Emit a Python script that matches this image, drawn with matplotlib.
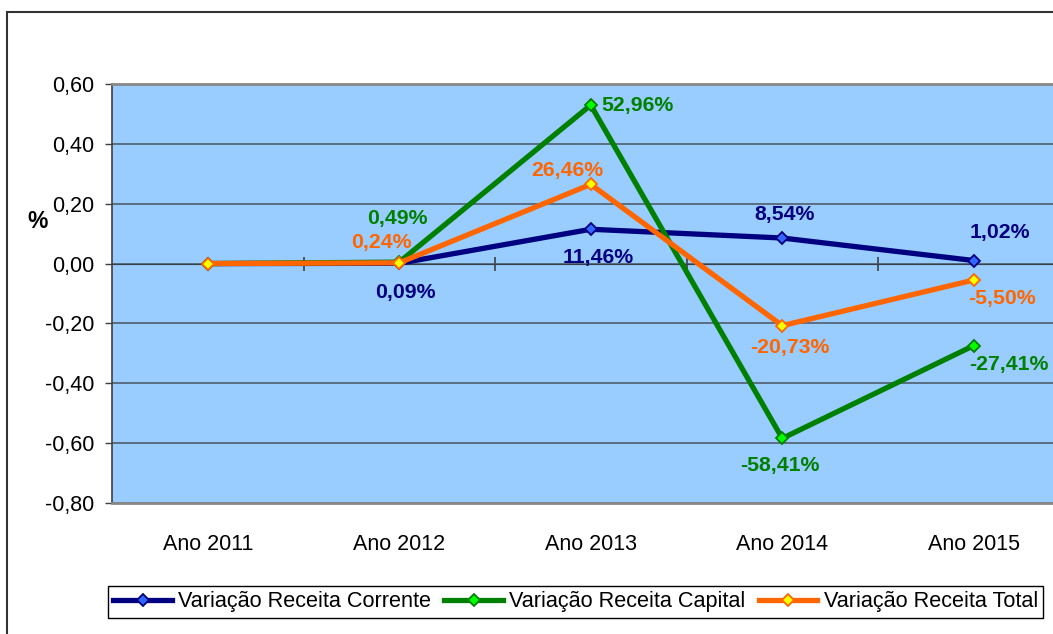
import matplotlib
matplotlib.use("Agg")
import matplotlib.pyplot as plt
from matplotlib.patches import Rectangle
from matplotlib.ticker import FuncFormatter, FixedLocator

plt.rcParams['font.family'] = ['Liberation Sans', 'DejaVu Sans']

# --- dados ---
anos = ["Ano 2011", "Ano 2012", "Ano 2013", "Ano 2014", "Ano 2015"]
corrente = [0.0, 0.0009, 0.1146, 0.0854, 0.0102]
capital = [0.0, 0.0049, 0.5296, -0.5841, -0.2741]
total = [0.0, 0.0024, 0.2646, -0.2073, -0.0550]
series_nomes = ["Variação Receita Corrente", "Variação Receita Capital", "Variação Receita Total"]

# deslocamento dos rotulos (pixels)
off_corrente = [None, (6, -29), (7, -28), (2, 24), (26, 28)]
off_capital = [None, (-2, 44), (47, 0), (-2, -27), (35, -19)]
off_total = [None, (-18, 20), (-23, 14), (8, -22), (28, -18)]

W, H = 1053, 634
fig = plt.figure(figsize=(W / 100, H / 100), dpi=100)
fig.patch.set_facecolor("white")

# borda externa do grafico
fig.patches.append(Rectangle((7 / W, -0.1), 1.2, 1 - 12 / H + 0.1, transform=fig.transFigure,
                             fill=False, edgecolor="#333333", lw=1.5))

ax = fig.add_axes([112 / W, 1 - 503 / H, 957.5 / W, 419 / H])
ax.set_facecolor("#99CCFF")

x = list(range(len(anos)))
estilos = [
    (corrente, "#000080", "#3366FF", off_corrente),
    (capital, "#008000", "#00FF00", off_capital),
    (total, "#FF6600", "#FFFF00", off_total),
]
for (vals, cor, cor_m, offs), nome in zip(estilos, series_nomes):
    ax.plot(x, vals, color=cor, lw=3.8, marker="D", markersize=6.3,
            markerfacecolor=cor_m, markeredgecolor=cor, markeredgewidth=1.3,
            label=nome, zorder=3)
    for xi, v, o in zip(x, vals, offs):
        if o is None:
            continue
        ax.annotate(f"{v * 100:.2f}%".replace(".", ","), (xi, v), xytext=o,
                    textcoords="offset pixels", ha="center", va="center",
                    fontsize=15.3, fontweight="bold", color=cor, zorder=4)

ax.set_xlim(-0.5, len(anos) - 0.5)
ax.set_ylim(-0.8, 0.6)
ax.set_yticks([-0.8, -0.6, -0.4, -0.2, 0.0, 0.2, 0.4, 0.6])
ax.yaxis.set_major_formatter(FuncFormatter(lambda v, p: f"{v:.2f}".replace(".", ",")))
ax.grid(axis="y", color="#4a5560", lw=1.1, zorder=1)
ax.set_axisbelow(True)
ax.tick_params(axis="y", direction="out", length=5, width=1, color="#404040",
               labelsize=15.5, pad=8)

ax.set_xticks(x)
ax.set_xticklabels(anos)
ax.tick_params(axis="x", length=0, labelsize=15.5, pad=22)

for s in ["top", "bottom"]:
    ax.spines[s].set_color("#888888")
    ax.spines[s].set_linewidth(2)
ax.spines["left"].set_color("#404040")
ax.spines["left"].set_linewidth(1.2)
ax.spines["right"].set_visible(False)

# eixo das categorias cruzando no zero
sec = ax.secondary_xaxis(0.8 / 1.4)
sec.xaxis.set_major_locator(FixedLocator([i + 0.5 for i in x[:-1]]))
sec.tick_params(direction="inout", length=10, width=1.2, color="#404040", labelbottom=False)
sec.set_xticklabels([])
sec.spines["bottom"].set_color("#4a5560")
sec.spines["bottom"].set_linewidth(1.1)

fig.text(38 / W, 1 - 221 / H, "%", fontsize=16.5, fontweight="bold", ha="center", va="center")

fig.legend(loc="upper left", bbox_to_anchor=(108 / W, 1 - 586 / H), ncol=3,
           fontsize=15.6, frameon=True, fancybox=False, edgecolor="black",
           framealpha=1, borderpad=0.25, handlelength=2.7, handletextpad=0.3,
           columnspacing=0.6, borderaxespad=0)

fig.savefig("out.png", dpi=100)
